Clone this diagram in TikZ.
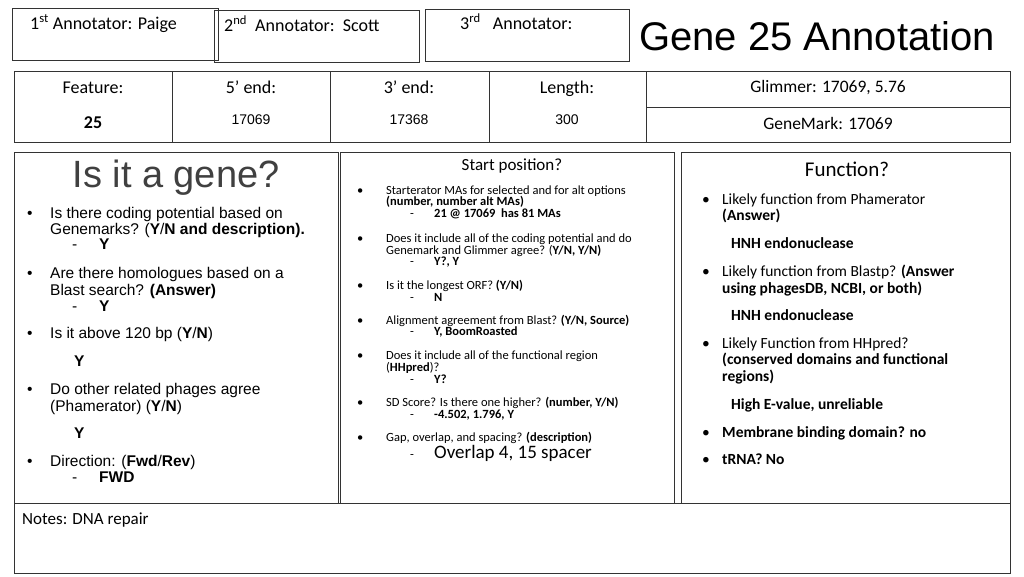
\documentclass[tikz,border=0pt]{standalone}
\usepackage{fontspec}
\setmainfont{Carlito}
\newfontfamily\arial{Liberation Sans}
\begin{document}
\begin{tikzpicture}[x=1pt,y=-1pt,
  box/.style={draw=black!80,line width=0.9pt},
  t/.style={anchor=base west,inner sep=0pt},
  tc/.style={anchor=base,inner sep=0pt}]
\useasboundingbox (0,0) rectangle (1024,576);
% top boxes
\draw[box] (12,8) rectangle (218,60);
\draw[box] (214,10) rectangle (419,62);
\draw[box] (425,9) rectangle (629,61);
\node[t,font=\fontsize{18}{20}\selectfont] (a1) at (30,29) {1\textsuperscript{st} Annotator: Paige};
\node[t,font=\fontsize{18}{20}\selectfont] (a2) at (224,31) {2\textsuperscript{nd}\ \ Annotator:\ \ Scott};
\node[t,font=\fontsize{18}{20}\selectfont] (a3) at (460,29) {3\textsuperscript{rd}\ \ \ Annotator:};
\node[tc,font=\arial\fontsize{40}{44}\selectfont] (title) at (817,50) {Gene 25 Annotation};
% header row
\draw[box] (14,71) rectangle (1010,142);
\foreach \x in {172,330,489,646} \draw[box] (\x,71) -- (\x,142);
\draw[box] (646,107) -- (1010,107);
\node[tc,font=\fontsize{18}{20}\selectfont] (f) at (93,93) {Feature:};
\node[tc,font=\bfseries\fontsize{18}{20}\selectfont] (fv) at (93,128) {25};
\node[tc,font=\fontsize{18}{20}\selectfont] (e5) at (251,93) {5’ end:};
\node[tc,font=\arial\fontsize{14}{16}\selectfont] (e5v) at (251,124) {17069};
\node[tc,font=\fontsize{18}{20}\selectfont] (e3) at (409,93) {3’ end:};
\node[tc,font=\arial\fontsize{14}{16}\selectfont] (e3v) at (409,124) {17368};
\node[tc,font=\fontsize{18}{20}\selectfont] (len) at (567,93) {Length:};
\node[tc,font=\arial\fontsize{14}{16}\selectfont] (lenv) at (567,124) {300};
\node[tc,font=\fontsize{17.5}{20}\selectfont] (gl) at (828,92) {Glimmer: 17069, 5.76};
\node[tc,font=\fontsize{17.5}{20}\selectfont] (gm) at (828,129) {GeneMark: 17069};
% panels
\draw[box] (14,152) rectangle (338,503);
\draw[box] (340,152) rectangle (674,503);
\draw[box] (681,152) rectangle (1010,503);
\draw[box] (14,503) rectangle (1010,573);
% left panel
\begin{scope}[font=\arial\fontsize{15.5}{18}\selectfont,every node/.style={t}]
\node[tc,font=\arial\fontsize{38}{42}\selectfont,text=black!75] (lt) at (176,187) {Is it a gene?};
\foreach \y in {218,278,338,394,466} \node at (27,\y) {\textbullet};
\node at (50,218) {Is there coding potential based on};
\node at (50,234) {Genemarks? (\textbf{Y}/\textbf{N and description).}};
\node at (72,249) {-}; \node at (99,249) {\textbf{Y}};
\node at (50,278) {Are there homologues based on a};
\node at (50,295) {Blast search? \textbf{(Answer)}};
\node at (72,311) {-}; \node at (99,311) {\textbf{Y}};
\node at (50,338) {Is it above 120 bp (\textbf{Y}/\textbf{N})};
\node at (74,366) {\textbf{Y}};
\node at (50,394) {Do other related phages agree};
\node at (50,411) {(Phamerator) (\textbf{Y}/\textbf{N})};
\node at (74,438) {\textbf{Y}};
\node at (50,466) {Direction: (\textbf{Fwd}/\textbf{Rev})};
\node at (72,482) {-}; \node at (99,482) {\textbf{FWD}};
\end{scope}
% middle panel
\node[tc,font=\fontsize{17}{20}\selectfont] (mt) at (512,170) {Start position?};
\begin{scope}[font=\fontsize{12.5}{14}\selectfont,every node/.style={t}]
\foreach \y in {194,242,289,324,359,406,441} \node at (357,\y) {\textbullet};
\node at (386,194) {Starterator MAs for selected and for alt options};
\node at (386,205) {\textbf{(number, number alt MAs)}};
\node at (410,217) {-}; \node at (434,217) {\textbf{21 @ 17069\ \ has 81 MAs}};
\node at (386,242) {Does it include all of the coding potential and do};
\node at (386,254) {Genemark and Glimmer agree? (\textbf{Y/N, Y/N)}};
\node at (410,265) {-}; \node at (434,265) {\textbf{Y?, Y}};
\node at (386,289) {Is it the longest ORF? \textbf{(Y/N)}};
\node at (410,301) {-}; \node at (434,301) {\textbf{N}};
\node at (386,324) {Alignment agreement from Blast? \textbf{(Y/N, Source)}};
\node at (410,335) {-}; \node at (434,335) {\textbf{Y, BoomRoasted}};
\node at (386,359) {Does it include all of the functional region};
\node at (386,371) {(\textbf{HHpred})?};
\node at (410,383) {-}; \node at (434,383) {\textbf{Y?}};
\node at (386,406) {SD Score? Is there one higher? \textbf{(number, Y/N)}};
\node at (410,418) {-}; \node at (434,418) {\textbf{-4.502, 1.796, Y}};
\node at (386,441) {Gap, overlap, and spacing? \textbf{(description)}};
\node at (410,458) {-}; \node[font=\fontsize{19}{22}\selectfont] at (434,458) {Overlap 4, 15 spacer};
\end{scope}
% right panel
\node[tc,font=\fontsize{21}{24}\selectfont] (rt) at (847,176) {Function?};
\begin{scope}[font=\fontsize{15.5}{18}\selectfont,every node/.style={t}]
\foreach \y in {204,276,348,437,464} \node at (702,\y) {\textbullet};
\node at (722,204) {Likely function from Phamerator};
\node at (722,220) {\textbf{(Answer)}};
\node at (731,248) {\textbf{HNH endonuclease}};
\node at (722,276) {Likely function from Blastp? \textbf{(Answer}};
\node at (722,293) {\textbf{using phagesDB, NCBI, or both)}};
\node at (731,320) {\textbf{HNH endonuclease}};
\node at (722,348) {Likely Function from HHpred?};
\node at (722,364) {\textbf{(conserved domains and functional}};
\node at (722,381) {\textbf{regions)}};
\node at (731,409) {\textbf{High E-value, unreliable}};
\node at (722,437) {\textbf{Membrane binding domain? no}};
\node at (722,464) {\textbf{tRNA? No}};
\end{scope}
\node[t,font=\fontsize{17}{20}\selectfont] (notes) at (22,524) {Notes: DNA repair};
\end{tikzpicture}
\end{document}
